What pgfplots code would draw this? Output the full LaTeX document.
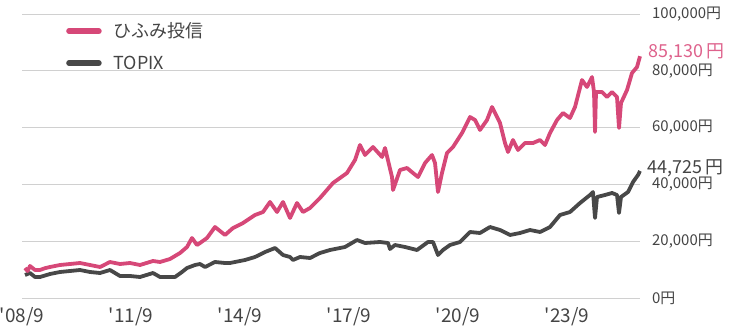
\documentclass[border=0pt]{standalone}
\usepackage{fontspec}
\usepackage{pgfplots}
\usepackage{pgfplotstable}
\pgfplotsset{compat=1.18}
\newfontfamily\jp{Noto Sans CJK JP}
\definecolor{hpink}{RGB}{214,72,120}
\definecolor{hpinklabel}{RGB}{222,98,140}
\definecolor{tgray}{RGB}{72,72,72}
\definecolor{lblgray}{RGB}{68,68,68}
\definecolor{gridgray}{RGB}{208,208,208}

\pgfplotstableread{
x y
2008.750 10560
2008.820 9500
2008.887 11267
2009.025 9859
2009.162 9859
2009.300 10500
2009.437 10915
2009.713 11619
2009.988 11971
2010.263 12324
2010.539 11619
2010.814 10915
2011.089 12676
2011.364 11971
2011.640 12324
2011.915 11619
2012.273 13028
2012.466 12676
2012.741 13732
2013.016 15845
2013.209 17957
2013.346 21126
2013.484 18661
2013.566 19366
2013.759 21126
2013.979 24999
2014.255 22182
2014.475 24647
2014.750 26408
2015.080 29224
2015.301 30281
2015.493 33802
2015.686 30281
2015.851 33802
2016.044 28168
2016.236 33450
2016.401 30281
2016.594 31689
2016.869 35210
2017.227 40492
2017.612 44013
2017.833 48590
2017.970 53871
2018.108 50350
2018.328 53167
2018.576 49646
2018.659 52815
2018.851 42604
2018.879 38027
2019.071 45069
2019.264 45773
2019.429 44013
2019.567 42604
2019.760 47534
2019.952 50350
2020.035 47534
2020.117 37323
2020.227 44013
2020.365 51055
2020.530 53167
2020.778 58097
2020.998 63730
2021.136 62674
2021.273 59153
2021.466 62674
2021.604 67251
2021.741 63730
2021.824 61618
2021.961 54576
2022.044 51407
2022.181 55632
2022.319 52111
2022.512 54576
2022.732 54576
2022.925 55632
2023.062 53871
2023.200 58097
2023.393 62674
2023.558 65139
2023.750 63378
2023.888 67251
2024.081 76758
2024.218 74293
2024.356 77814
2024.411 72533
2024.439 58449
2024.466 72533
2024.631 72533
2024.769 70772
2024.907 72533
2025.044 70772
2025.099 59857
2025.154 68660
2025.320 73237
2025.457 79223
2025.595 81335
2025.677 85130
}\hifumi

\pgfplotstableread{
x y
2008.750 8098
2008.887 8803
2009.025 7394
2009.162 7394
2009.437 8450
2009.713 9155
2009.988 9507
2010.263 9859
2010.539 9155
2010.814 8803
2011.089 9859
2011.364 7746
2011.640 7746
2011.915 7394
2012.273 8803
2012.466 7394
2012.741 7394
2012.878 7394
2013.071 9155
2013.209 10563
2013.429 11619
2013.566 11971
2013.704 10915
2013.979 12676
2014.255 12324
2014.392 12324
2014.805 13380
2015.080 14436
2015.356 16197
2015.631 17605
2015.851 15140
2016.044 14436
2016.126 13380
2016.319 14436
2016.594 14084
2016.869 15845
2017.145 16901
2017.557 17957
2017.888 20422
2018.108 19366
2018.521 19718
2018.741 19366
2018.796 17253
2018.934 18661
2019.209 17957
2019.539 16901
2019.842 19718
2019.980 19718
2020.117 15140
2020.255 16901
2020.447 18661
2020.723 19718
2020.998 23239
2021.273 22887
2021.549 24999
2021.824 23943
2022.099 22182
2022.374 22887
2022.650 23943
2022.925 23239
2023.200 24999
2023.475 29224
2023.750 30281
2024.026 33450
2024.301 36266
2024.383 37323
2024.439 28168
2024.494 35562
2024.714 36266
2024.907 36971
2025.044 36266
2025.099 29929
2025.154 35562
2025.347 37323
2025.485 40844
2025.622 43308
2025.677 44725
}\topix

\begin{document}
\jp
\begin{tikzpicture}
\begin{axis}[
  name=ax,
  scale only axis,
  width=618bp, height=284bp,
  xmin=2008.667, xmax=2025.677,
  ymin=0, ymax=100000,
  scaled y ticks=false,
  scaled x ticks=false,
  clip=false,
  axis line style={draw=none},
  tick style={draw=none},
  major tick length=0pt,
  ymajorgrids,
  grid style={gridgray, line width=0.9bp},
  ytick={0,20000,40000,60000,80000,100000},
  yticklabels={0円,{20,000円},{40,000円},{60,000円},{80,000円},{100,000円}},
  yticklabel pos=right,
  yticklabel style={anchor=west, inner sep=0pt, xshift=12bp, font=\jp\fontsize{15}{15}\selectfont, text=lblgray},
  xtick={2008.667,2011.667,2014.667,2017.667,2020.667,2023.667},
  xticklabels={'08/9,'11/9,'14/9,'17/9,'20/9,'23/9},
  xticklabel style={anchor=north, inner sep=0pt, yshift=-9bp, font=\jp\fontsize{19}{19}\selectfont, text=lblgray},
  legend style={at={(0.0712,0.9736)}, anchor=north west, draw=none, fill=none, inner sep=0pt,
    row sep=13bp, column sep=12bp,
    nodes={inner sep=0pt, text height=16bp, text depth=3bp, font=\jp\fontsize{18}{18}\selectfont, text=lblgray}},
  legend image code/.code={\draw[line width=5.5bp, line cap=round] (0bp,0bp) -- (30bp,0bp);},
  legend cell align=left,
]
\addlegendimage{hpink}
\addlegendentry{ひふみ投信}
\addlegendimage{tgray}
\addlegendentry{TOPIX}
\addplot[forget plot, tgray, line width=3.8bp, line join=round] table[x=x,y=y] {\topix};
\addplot[forget plot, hpink, line width=3.8bp, line join=round] table[x=x,y=y] {\hifumi};
\node[anchor=west, inner sep=0pt, text=hpinklabel, font=\jp\fontsize{18}{18}\selectfont, xshift=8bp, yshift=4bp] at (axis cs:2025.677,85130) {85,130 円};
\node[anchor=west, inner sep=0pt, text=lblgray, font=\jp\fontsize{18}{18}\selectfont, xshift=7bp, yshift=3bp] at (axis cs:2025.677,44725) {44,725 円};
\end{axis}
\pgfresetboundingbox
\path[use as bounding box] ([xshift=-22bp,yshift=-29bp]ax.south west) rectangle ([xshift=101bp,yshift=14bp]ax.north east);
\end{tikzpicture}
\end{document}
